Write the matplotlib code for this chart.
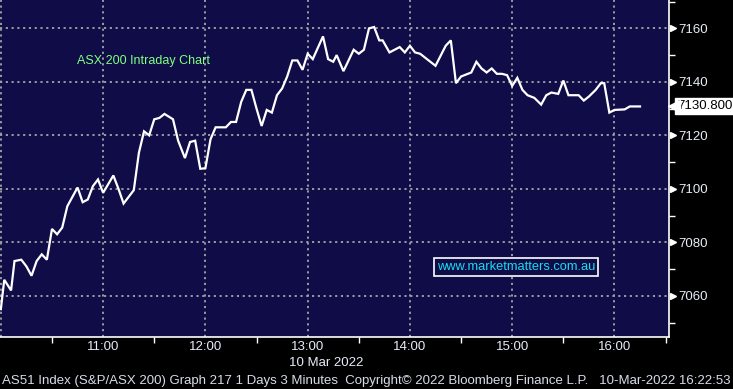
import numpy as np
import matplotlib
matplotlib.use("Agg")
from matplotlib import pyplot as plt
from matplotlib import transforms

# minutes after 10:00 and index level (vertices)
minutes = [0, 2, 6, 8, 12, 15, 18, 21, 24, 27, 30, 33, 36, 39, 45, 48, 51, 54, 57,
           60, 66, 69, 72, 78, 81, 84, 87, 90, 93, 96, 101, 104, 108, 111, 114, 117,
           120, 123, 126, 132, 135, 138, 141, 144, 147, 150, 153, 156, 159, 162, 165,
           168, 171, 174, 177, 180, 183, 189, 192, 195, 197, 201, 204, 207, 210, 213,
           216, 219, 222, 224, 228, 231, 234, 237, 240, 243, 246, 249, 253, 255, 259,
           261, 264, 267, 270, 272, 276, 279, 282, 285, 288, 291, 294, 297, 300, 303,
           306, 309, 313, 317, 320, 323, 327, 330, 333, 339, 342, 345, 349, 352, 354,
           357, 360, 366, 369, 375]
level = [7055, 7066, 7062, 7073, 7073.5, 7071, 7067.5, 7073, 7075.5, 7073.5, 7085,
         7083, 7085.5, 7093.5, 7100.5, 7095, 7096, 7101, 7103.5, 7098.5, 7105, 7100,
         7094.5, 7099.5, 7113.5, 7121.5, 7120, 7126, 7126.5, 7128, 7126, 7118, 7111.5,
         7117.5, 7118, 7107.5, 7107.7, 7118.5, 7123, 7123, 7125, 7125, 7132.5, 7137,
         7137, 7130, 7123.5, 7129.5, 7128.5, 7135, 7137.5, 7142, 7148, 7148, 7144.5,
         7150.5, 7148.5, 7157, 7148.5, 7147.5, 7150, 7144, 7148, 7152, 7150.5, 7152,
         7160, 7160.5, 7155.5, 7155.5, 7151, 7152, 7153, 7151, 7153.5, 7151, 7150.5,
         7149, 7147, 7146, 7151, 7153.5, 7155.5, 7139.5, 7142, 7142.5, 7143.5, 7147.5,
         7145, 7143.5, 7145, 7143, 7143, 7142.5, 7138.5, 7141.5, 7137, 7135, 7134,
         7131.5, 7135, 7136, 7135.5, 7140.5, 7135, 7135, 7133, 7134.5, 7137, 7139.5,
         7139.5, 7128.5, 7129.5, 7129.7, 7130.8, 7130.8]

last_price = 7130.8
hour_ticks = [0, 60, 120, 180, 240, 300, 360]
hour_labels = ["", "11:00", "12:00", "13:00", "14:00", "15:00", "16:00"]
y_major = [7060, 7080, 7100, 7120, 7140, 7160]
y_minor = [7050, 7070, 7090, 7110, 7130, 7150, 7170]

bg = "#0f0c48"
grid_col = "#a4a4a4"
txt_col = "#e8ecf8"
fnt = "Liberation Sans"

fig = plt.figure(figsize=(7.33, 3.89), dpi=100, facecolor="black")
ax = fig.add_axes([0, 1 - 337 / 389, 669 / 733, 337 / 389])
ax.set_facecolor(bg)

ax.plot(minutes, level, color="white", lw=1.6, solid_joinstyle="miter", zorder=3)

ax.set_xlim(-0.5, 392)
ax.set_ylim(7044.6, 7170.6)

# grid
for h in hour_ticks:
    ax.axvline(h, color=grid_col, lw=1.3, ls=(0, (1.2, 2.0)), zorder=1)
for v in y_major:
    ax.axhline(v, color=grid_col, lw=1.3, ls=(0, (1.2, 2.0)), zorder=1)

for s in ["top", "left"]:
    ax.spines[s].set_visible(False)
ax.spines["right"].set_color("white")
ax.spines["bottom"].set_color("white")
ax.spines["right"].set_linewidth(1.2)
ax.spines["bottom"].set_linewidth(1.2)

# x axis
ax.set_xticks(hour_ticks)
ax.set_xticklabels(hour_labels, family=fnt)
ax.set_xticks(np.arange(30, 392, 60), minor=True)
ax.tick_params(axis="x", which="major", length=0, pad=3, labelsize=9.5, labelcolor=txt_col)
ax.tick_params(axis="x", which="minor", length=4, width=1, color="white", direction="out")

# y axis on the right
ax.yaxis.tick_right()
ax.set_yticks(y_major)
ax.set_yticks(y_minor, minor=True)
ax.set_yticklabels([str(v) for v in y_major], family=fnt)
ax.tick_params(axis="y", which="major", length=0, pad=7, labelsize=9.5, labelcolor=txt_col)
ax.tick_params(axis="y", which="minor", length=4, width=1, color="white", direction="out")

ytrans = ax.get_yaxis_transform()
tri_trans = transforms.offset_copy(ytrans, fig=fig, x=3.5, y=0, units="dots")
ax.plot([1.0] * len(y_major), y_major, ls="none", marker=">", ms=5,
        color="white", transform=tri_trans, clip_on=False)

# last price box
ptrans = transforms.offset_copy(ytrans, fig=fig, x=8, y=0, units="dots")
ax.text(1.0, last_price, "%.3f" % last_price, transform=ptrans, ha="left", va="center",
        fontsize=9.5, color="black", family=fnt,
        bbox=dict(boxstyle="square,pad=0.15", fc="white", ec="white"), clip_on=False, zorder=5)
atrans = transforms.offset_copy(ytrans, fig=fig, x=5, y=0, units="dots")
ax.plot([1.0], [last_price], ls="none", marker="<", ms=8, color="white",
        transform=atrans, clip_on=False, zorder=5)

# annotations
ax.text(77 / 669, 1 - 61 / 337, "ASX 200 Intraday Chart", transform=ax.transAxes,
        color="#80ff80", fontsize=9, family=fnt, va="center", ha="left")
ax.text(516 / 669, 1 - 267 / 337, "www.marketmatters.com.au", transform=ax.transAxes,
        color="#19dcf0", fontsize=9.3, family=fnt, va="center", ha="center",
        bbox=dict(boxstyle="square,pad=0.25", fc=bg, ec="white", lw=1.2), zorder=4)

fig.text(326 / 733, 1 - 363 / 389, "10 Mar 2022", color=txt_col, fontsize=9.5,
         family=fnt, ha="center", va="center")
fig.text(2 / 733, 1 - 381 / 389,
         "AS51 Index (S&P/ASX 200) Graph 217 1 Days 3 Minutes  Copyright\u00a9 2022 "
         "Bloomberg Finance L.P.   10-Mar-2022 16:22:53",
         color="#d8dce8", fontsize=9.5, family=fnt, ha="left", va="center")

fig.savefig("out.png", dpi=100, facecolor="black")
